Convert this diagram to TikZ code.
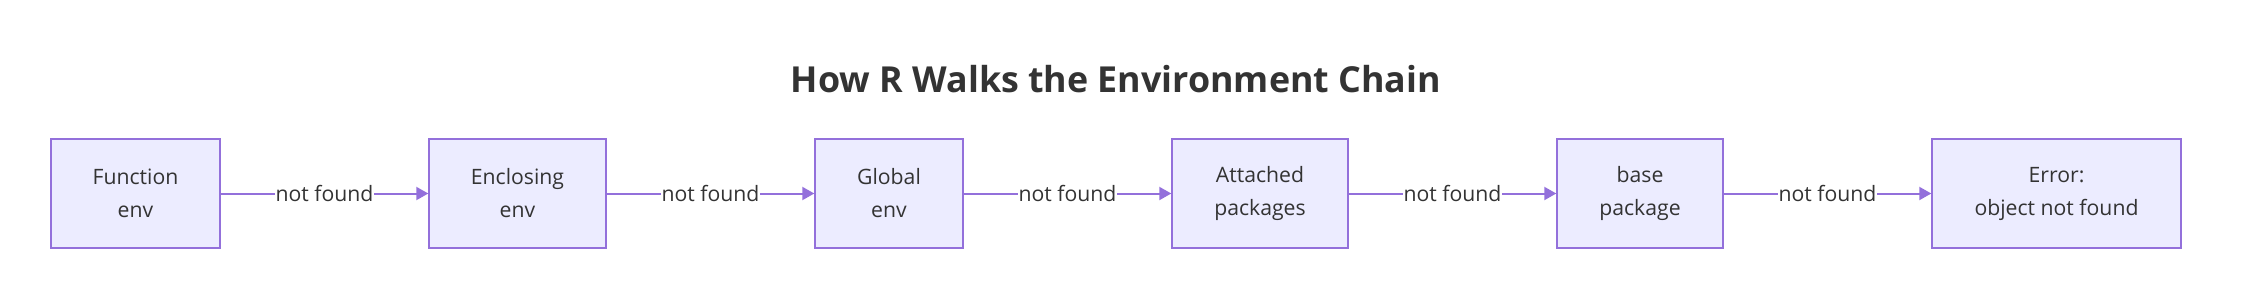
\documentclass[tikz,border=0pt]{standalone}
\usepackage{fontspec}
\setmainfont{Open Sans}
\usetikzlibrary{arrows.meta,positioning}
\definecolor{NodeFill}{HTML}{ECECFF}
\definecolor{NodeLine}{HTML}{9370DB}
\definecolor{EdgeLine}{HTML}{9370DB}
\definecolor{InkGray}{HTML}{333333}
\begin{document}
\begin{tikzpicture}[
    envbox/.style={draw=NodeLine,fill=NodeFill,line width=0.7pt,align=center,
      text=InkGray,minimum height=54.5pt,inner sep=0pt,
      font=\fontsize{10.6}{16.5}\selectfont},
    lookup/.style={-{Triangle[length=6pt,width=6.5pt]},draw=EdgeLine,line width=1pt},
    lookuplabel/.style={fill=white,text=InkGray,inner sep=0.5pt,
      font=\fontsize{10.6}{12}\selectfont},
    node distance=103.8pt]
  \useasboundingbox (0,0) rectangle (1124pt,151pt);
  \node[envbox,minimum width=84.5pt] (fenv) at (67.75pt,54.25pt) {Function\\env};
  \node[envbox,minimum width=88.5pt,right=of fenv] (encl) {Enclosing\\env};
  \node[envbox,minimum width=74pt,right=of encl] (glob) {Global\\env};
  \node[envbox,minimum width=88pt,right=of glob] (attached) {Attached\\packages};
  \node[envbox,minimum width=83pt,right=of attached] (basepkg) {base\\package};
  \node[envbox,minimum width=124.5pt,right=of basepkg] (err) {Error:\\object not found};
  \node[text=InkGray,font=\fontsize{17.9}{22}\selectfont\bfseries] (title)
    at (558pt,111.5pt) {How R Walks the Environment Chain};
  \draw[lookup] (fenv) -- node[lookuplabel] {not found} (encl);
  \draw[lookup] (encl) -- node[lookuplabel] {not found} (glob);
  \draw[lookup] (glob) -- node[lookuplabel] {not found} (attached);
  \draw[lookup] (attached) -- node[lookuplabel] {not found} (basepkg);
  \draw[lookup] (basepkg) -- node[lookuplabel] {not found} (err);
\end{tikzpicture}
\end{document}
